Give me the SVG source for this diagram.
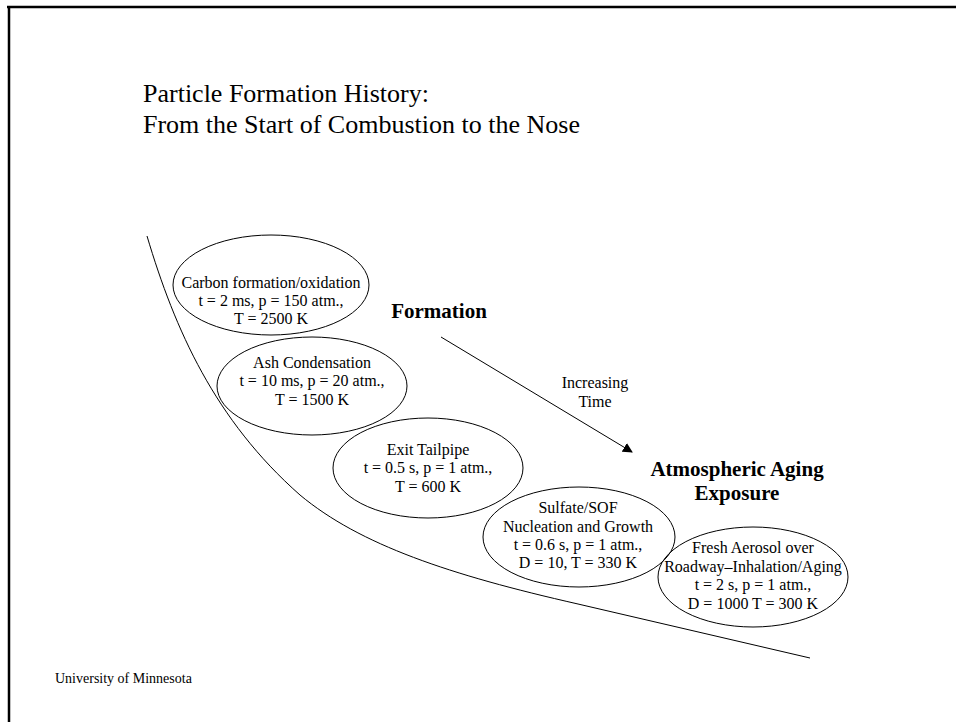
<svg xmlns="http://www.w3.org/2000/svg" width="956" height="722" viewBox="0 0 956 722">
<style>
.t{font-family:"Liberation Serif","Times New Roman",serif;fill:#000}
.n{font-size:16px;text-anchor:middle}
.b{font-size:21px;font-weight:bold;text-anchor:middle}
.e{fill:none;stroke:#000;stroke-width:1}
</style>
<defs>
<marker id="ah" markerWidth="10" markerHeight="10" refX="9" refY="5" orient="auto" markerUnits="userSpaceOnUse">
<path d="M0,0 L10,5 L0,10 z" fill="#000"/>
</marker>
</defs>
<rect width="956" height="722" fill="#fff"/>
<g id="frame">
<line x1="7" y1="7" x2="956" y2="7" stroke="#000" stroke-width="2.5"/>
<line x1="9" y1="6" x2="9" y2="722" stroke="#000" stroke-width="2.5"/>
</g>
<g id="title">
<text class="t" x="143" y="102" font-size="26">Particle Formation History:</text>
<text class="t" x="143" y="133" font-size="26">From the Start of Combustion to the Nose</text>
</g>
<g id="connectors">
<path d="M147,236 C175,330 215,420 300,495 C360,545 450,575 578,604 L810,658" class="e"/>
<line x1="441" y1="337" x2="632" y2="452" stroke="#000" stroke-width="1" marker-end="url(#ah)"/>
</g>
<g id="carbon">
<ellipse cx="271" cy="285" rx="98" ry="50" class="e"/>
<text class="t n" x="271" y="288">Carbon formation/oxidation</text>
<text class="t n" x="271" y="306">t = 2 ms, p = 150 atm.,</text>
<text class="t n" x="271" y="324">T = 2500 K</text>
</g>
<g id="ash">
<ellipse cx="312" cy="386" rx="95" ry="49" class="e"/>
<text class="t n" x="312" y="368">Ash Condensation</text>
<text class="t n" x="312" y="386">t = 10 ms, p = 20 atm.,</text>
<text class="t n" x="312" y="405">T = 1500 K</text>
</g>
<g id="tailpipe">
<ellipse cx="428" cy="468" rx="95" ry="50" class="e"/>
<text class="t n" x="428" y="455">Exit Tailpipe</text>
<text class="t n" x="428" y="473">t = 0.5 s, p = 1 atm.,</text>
<text class="t n" x="428" y="492">T = 600 K</text>
</g>
<g id="sulfate">
<ellipse cx="579" cy="537" rx="96" ry="50" class="e"/>
<text class="t n" x="578" y="513">Sulfate/SOF</text>
<text class="t n" x="578" y="532">Nucleation and Growth</text>
<text class="t n" x="578" y="550">t = 0.6 s, p = 1 atm.,</text>
<text class="t n" x="578" y="568">D = 10, T = 330 K</text>
</g>
<g id="fresh">
<ellipse cx="753" cy="577" rx="95" ry="50" class="e"/>
<text class="t n" x="753" y="553">Fresh Aerosol over</text>
<text class="t n" x="753" y="572">Roadway–Inhalation/Aging</text>
<text class="t n" x="753" y="590">t = 2 s, p = 1 atm.,</text>
<text class="t n" x="753" y="609">D = 1000 T = 300 K</text>
</g>
<g id="labels">
<text class="t b" x="439" y="318">Formation</text>
<text class="t n" x="595" y="388">Increasing</text>
<text class="t n" x="595" y="407">Time</text>
<text class="t b" x="737" y="476">Atmospheric Aging</text>
<text class="t b" x="737" y="500">Exposure</text>
<text class="t" x="55" y="683" font-size="14">University of Minnesota</text>
</g>
</svg>
